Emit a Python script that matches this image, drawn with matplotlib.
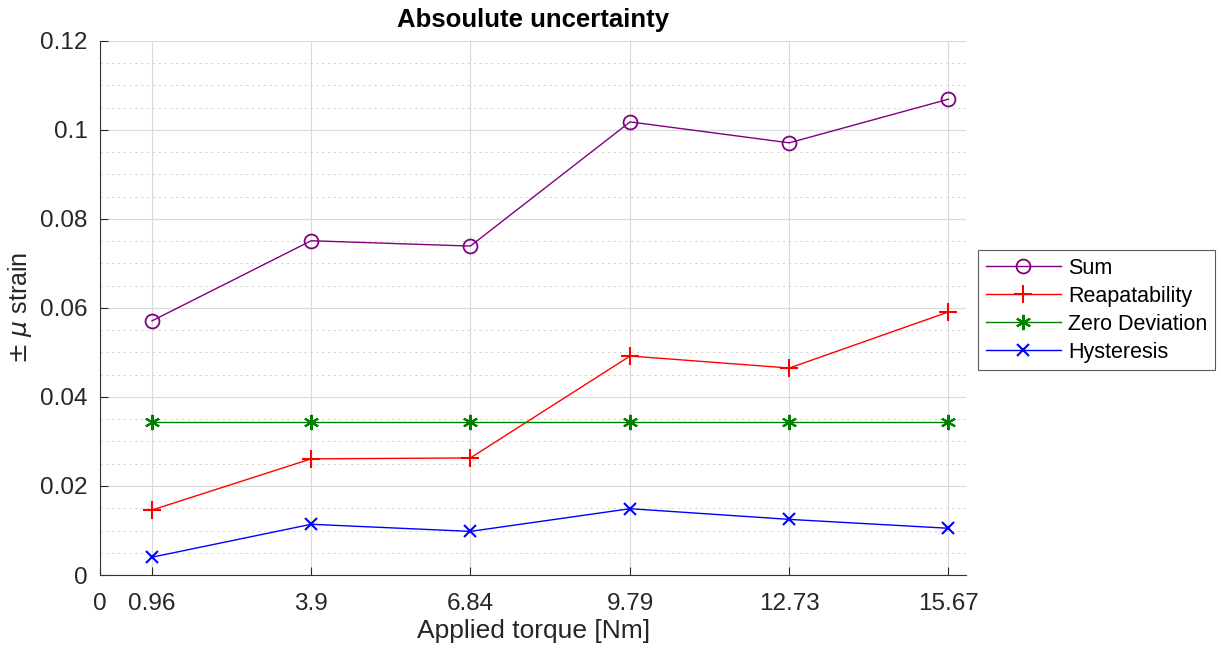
import numpy as np
import matplotlib.pyplot as plt

plt.rcParams['font.family'] = ['Liberation Sans', 'DejaVu Sans']

# Data
torque = [0.96, 3.9, 6.84, 9.79, 12.73, 15.67]
sum_unc = [0.0571, 0.0751, 0.0739, 0.1018, 0.0971, 0.1069]
repeat = [0.0146, 0.0261, 0.0263, 0.0492, 0.0465, 0.0591]
zero_dev = [0.0344, 0.0344, 0.0344, 0.0344, 0.0344, 0.0344]
hyst = [0.0040, 0.0114, 0.0098, 0.0149, 0.0125, 0.0105]
xtick_vals = [0, 0.96, 3.9, 6.84, 9.79, 12.73, 15.67]
xtick_labels = ['0', '0.96', '3.9', '6.84', '9.79', '12.73', '15.67']
ytick_vals = [0, 0.02, 0.04, 0.06, 0.08, 0.1, 0.12]
ytick_labels = ['0', '0.02', '0.04', '0.06', '0.08', '0.1', '0.12']

fig = plt.figure(figsize=(12.21, 6.49), dpi=100)
ax = fig.add_axes([0.0819, 0.114, 0.7095, 0.823])

ax.plot(torque, sum_unc, color='#800080', marker='o', markersize=10, markerfacecolor='none',
        markeredgewidth=1.3, linewidth=1, label='Sum')
ax.plot(torque, repeat, color='red', marker='+', markersize=13, markeredgewidth=1.5,
        linewidth=1, label='Reapatability')
ax.plot(torque, zero_dev, color='#008000', marker=(6, 2, 0), markersize=11, markeredgewidth=1.5,
        linewidth=1, label='Zero Deviation')
ax.plot(torque, hyst, color='blue', marker='x', markersize=9, markeredgewidth=1.5,
        linewidth=1, label='Hysteresis')

ax.set_xlim(0, 16)
ax.set_ylim(0, 0.12)
ax.set_xticks(xtick_vals)
ax.set_xticklabels(xtick_labels)
ax.set_yticks(ytick_vals)
ax.set_yticklabels(ytick_labels)
ax.set_yticks(np.arange(0, 0.1201, 0.005), minor=True)

ax.grid(True, which='major', color='#d9d9d9', linewidth=0.8)
ax.grid(True, which='minor', axis='y', color='#cfcfcf', linestyle=(0, (2, 4)), linewidth=0.7)
ax.set_axisbelow(True)

for s in ['top', 'right']:
    ax.spines[s].set_visible(False)
for s in ['left', 'bottom']:
    ax.spines[s].set_color('#333333')
ax.tick_params(direction='in', length=6, labelsize=17.5, colors='#262626', width=0.8)
ax.tick_params(axis='y', pad=9)
ax.tick_params(axis='x', pad=13)
ax.tick_params(which='minor', length=0)

ax.set_xlabel('Applied torque [Nm]', fontsize=19, color='#262626', labelpad=3)
ax.set_ylabel(r'$\pm$ $\mu$ strain', fontsize=18, color='#262626', labelpad=4)
ax.set_title('Absoulute uncertainty', fontsize=18.5, fontweight='bold', pad=10)

leg = fig.legend(loc='center left', bbox_to_anchor=(0.801, 0.522), fontsize=15.5,
                 frameon=True, fancybox=False, edgecolor='#333333', borderpad=0.35,
                 handlelength=3.5, labelspacing=0.32, handletextpad=0.35, borderaxespad=0)
leg.get_frame().set_linewidth(0.8)

plt.savefig('out.png', dpi=100)
